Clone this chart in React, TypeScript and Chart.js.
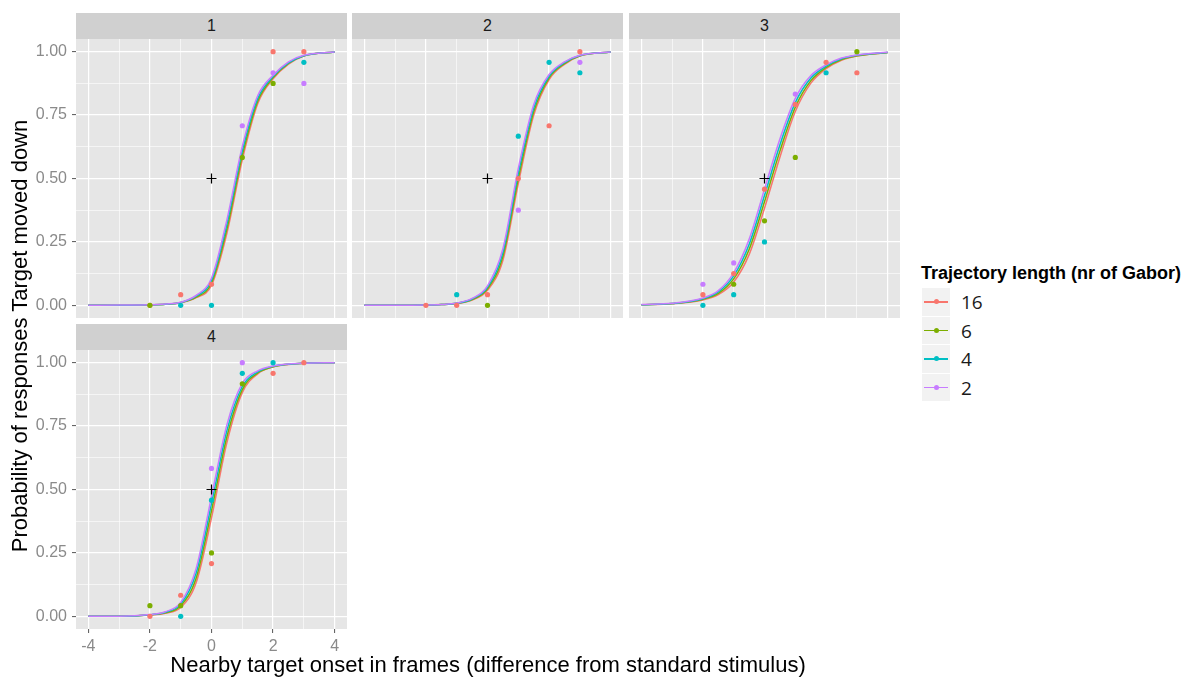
import React, { useEffect, useRef } from "react";
import { Chart, registerables } from "chart.js";

Chart.register(...registerables);

// ---------------- data ----------------
const SERIES = ["16", "6", "4", "2"];
const COLORS = ["#F8766D", "#7CAE00", "#00BFC4", "#C77CFF"];
const PANEL_LABELS = ["1", "2", "3", "4"];

const X_TICKS = [-4, -3, -2, -1, 0, 1, 2, 3, 4];
const Y_TICKS = [0, 0.125, 0.25, 0.375, 0.5, 0.625, 0.75, 0.875, 1];

// fitted curves, sampled at CURVE_X
const CURVE_X = [-4, -3, -2, -1.5, -1, -0.5, 0, 0.5, 1, 1.5, 2, 2.5, 3, 4];

const P1_16 = [0, 0, 0.002, 0.004, 0.01, 0.03, 0.079, 0.284, 0.574, 0.795, 0.893, 0.951, 0.983, 0.999];
const P1_6 = [0, 0, 0.002, 0.004, 0.011, 0.032, 0.088, 0.301, 0.591, 0.805, 0.898, 0.954, 0.984, 0.999];
const P1_4 = [0, 0, 0.002, 0.004, 0.011, 0.036, 0.098, 0.319, 0.609, 0.815, 0.902, 0.956, 0.984, 0.999];
const P1_2 = [0, 0.001, 0.002, 0.005, 0.012, 0.039, 0.107, 0.337, 0.626, 0.826, 0.907, 0.96, 0.986, 0.999];

const P2_16 = [0, 0, 0.001, 0.003, 0.007, 0.021, 0.059, 0.178, 0.48, 0.749, 0.89, 0.95, 0.983, 0.999];
const P2_6 = [0, 0, 0.001, 0.003, 0.008, 0.023, 0.065, 0.193, 0.5, 0.763, 0.897, 0.953, 0.984, 0.999];
const P2_4 = [0, 0, 0.001, 0.003, 0.008, 0.025, 0.071, 0.208, 0.52, 0.777, 0.903, 0.957, 0.985, 0.999];
const P2_2 = [0, 0, 0.001, 0.003, 0.009, 0.027, 0.077, 0.223, 0.54, 0.791, 0.91, 0.96, 0.986, 0.999];

const P3_16 = [0.002, 0.006, 0.021, 0.042, 0.092, 0.2, 0.383, 0.584, 0.764, 0.875, 0.933, 0.966, 0.983, 0.997];
const P3_6 = [0.002, 0.007, 0.024, 0.047, 0.104, 0.22, 0.408, 0.608, 0.781, 0.885, 0.938, 0.969, 0.984, 0.997];
const P3_4 = [0.002, 0.007, 0.026, 0.053, 0.116, 0.24, 0.433, 0.632, 0.799, 0.895, 0.943, 0.972, 0.986, 0.997];
const P3_2 = [0.003, 0.008, 0.029, 0.058, 0.128, 0.26, 0.458, 0.656, 0.816, 0.905, 0.948, 0.975, 0.987, 0.998];

const P4_16 = [0, 0, 0.005, 0.012, 0.035, 0.132, 0.388, 0.685, 0.882, 0.956, 0.983, 0.993, 0.998, 1];
const P4_6 = [0, 0, 0.006, 0.014, 0.042, 0.15, 0.416, 0.708, 0.894, 0.96, 0.984, 0.994, 0.998, 1];
const P4_4 = [0, 0, 0.006, 0.016, 0.048, 0.17, 0.444, 0.732, 0.906, 0.964, 0.986, 0.994, 0.998, 1];
const P4_2 = [0, 0, 0.007, 0.018, 0.055, 0.188, 0.472, 0.755, 0.918, 0.968, 0.987, 0.995, 0.998, 1];

// observed proportions at POINT_X (null = no visible point)
const POINT_X = [-2, -1, 0, 1, 2, 3];

const O1_16 = [0, 0.042, 0.083, null, 1.0, 1.0];
const O1_6 = [0, null, null, 0.583, 0.875, null];
const O1_4 = [null, 0, 0, null, null, 0.958];
const O1_2 = [null, null, null, 0.708, 0.917, 0.875];

const O2_16 = [0, 0, 0.042, 0.5, 0.708, 1.0];
const O2_6 = [null, null, 0, null, null, null];
const O2_4 = [null, 0.042, null, 0.667, 0.958, 0.917];
const O2_2 = [null, null, null, 0.375, null, 0.958];

const O3_16 = [0.042, 0.125, 0.458, 0.792, 0.958, 0.917];
const O3_6 = [null, 0.083, 0.333, 0.583, null, 1.0];
const O3_4 = [0, 0.042, 0.25, null, 0.917, null];
const O3_2 = [0.083, 0.167, null, 0.833, null, null];

const O4_16 = [0, 0.083, 0.208, null, 0.958, 1.0];
const O4_6 = [0.042, 0.042, 0.25, 0.917, null, null];
const O4_4 = [null, 0, 0.458, 0.958, 1.0, null];
const O4_2 = [null, null, 0.583, 1.0, null, null];

// reference marker (PSE of standard)
const REF_X = [0];
const REF_Y = [0.5];

const CURVES = [
  [P1_16, P1_6, P1_4, P1_2],
  [P2_16, P2_6, P2_4, P2_2],
  [P3_16, P3_6, P3_4, P3_2],
  [P4_16, P4_6, P4_4, P4_2],
];
const OBS = [
  [O1_16, O1_6, O1_4, O1_2],
  [O2_16, O2_6, O2_4, O2_2],
  [O3_16, O3_6, O3_4, O3_2],
  [O4_16, O4_6, O4_4, O4_2],
];

// ---------------- layout ----------------
const FONT = "'Liberation Sans', Arial, sans-serif";
const PANEL_W = 271;
const PANEL_H = 279;
const STRIP_H = 26;
const LAYOUT = [
  { left: 76, top: 39, showX: false, showY: true },
  { left: 352, top: 39, showX: false, showY: false },
  { left: 629, top: 39, showX: false, showY: false },
  { left: 76, top: 350, showX: true, showY: true },
];
const X_AXIS_H = 32;

const isMajorX = (v: number) => Math.abs(v / 2 - Math.round(v / 2)) < 1e-9;
const isMajorY = (v: number) => Math.abs(v * 4 - Math.round(v * 4)) < 1e-9;

const bgPlugin = {
  id: "panelBg",
  beforeDraw(chart: any) {
    const { ctx, chartArea: a } = chart;
    ctx.save();
    ctx.fillStyle = "#E6E6E6";
    ctx.fillRect(a.left, a.top, a.right - a.left, a.bottom - a.top);
    ctx.restore();
  },
};

function buildDatasets(p: number) {
  const ds: any[] = [];
  ds.push({
    label: "ref",
    data: REF_X.map((x, i) => ({ x, y: REF_Y[i] })),
    showLine: false,
    pointStyle: "cross",
    pointRadius: 5,
    pointBorderColor: "#000",
    pointBorderWidth: 1.2,
    order: 0,
  });
  for (let s = 0; s < SERIES.length; s++) {
    const pts: any[] = [];
    POINT_X.forEach((x, i) => {
      const y = OBS[p][s][i];
      if (y !== null && y !== undefined) pts.push({ x, y });
    });
    ds.push({
      label: SERIES[s] + " obs",
      data: pts,
      showLine: false,
      pointRadius: 2.6,
      pointBackgroundColor: COLORS[s],
      pointBorderColor: COLORS[s],
      pointBorderWidth: 0,
      order: 4 - s,
    });
  }
  for (let s = 0; s < SERIES.length; s++) {
    ds.push({
      label: SERIES[s],
      data: CURVE_X.map((x, i) => ({ x, y: CURVES[p][s][i] })),
      showLine: true,
      pointRadius: 0,
      borderColor: COLORS[s],
      borderWidth: 1.5,
      cubicInterpolationMode: "monotone",
      fill: false,
      order: 8 - s,
    });
  }
  return ds;
}

function Panel({ p }: { p: number }) {
  const ref = useRef<HTMLCanvasElement>(null);
  const L = LAYOUT[p];
  const axW = L.showY ? L.left : 0;
  const axH = L.showX ? X_AXIS_H : 0;
  const cw = axW + PANEL_W;
  const ch = PANEL_H + axH;

  useEffect(() => {
    if (!ref.current) return;
    const chart = new Chart(ref.current, {
      type: "scatter",
      data: { datasets: buildDatasets(p) },
      options: {
        animation: false,
        responsive: false,
        maintainAspectRatio: false,
        layout: { padding: 0, autoPadding: false } as any,
        events: [],
        plugins: { legend: { display: false }, tooltip: { enabled: false } },
        scales: {
          x: {
            type: "linear",
            min: -4.4,
            max: 4.4,
            afterBuildTicks: (sc: any) => {
              sc.ticks = X_TICKS.map((v) => ({ value: v }));
            },
            afterFit: (sc: any) => {
              sc.height = axH;
              sc.paddingLeft = 0;
              sc.paddingRight = 0;
              sc.paddingTop = 0;
              sc.paddingBottom = 0;
            },
            border: { display: false },
            grid: {
              color: "#FFFFFF",
              lineWidth: (c: any) => (c.tick && isMajorX(c.tick.value) ? 1.2 : 0.6),
              drawTicks: L.showX,
              tickLength: 4,
              tickWidth: 1,
              tickColor: (c: any) => (c.tick && isMajorX(c.tick.value) ? "#555555" : "rgba(0,0,0,0)"),
            },
            ticks: {
              display: L.showX,
              autoSkip: false,
              maxRotation: 0,
              padding: 4,
              color: "#8A8A8A",
              font: { family: FONT, size: 16 },
              callback: (v: any) => (isMajorX(Number(v)) ? String(v) : ""),
            },
          },
          y: {
            type: "linear",
            min: -0.05,
            max: 1.05,
            afterBuildTicks: (sc: any) => {
              sc.ticks = Y_TICKS.map((v) => ({ value: v }));
            },
            afterFit: (sc: any) => {
              sc.width = axW;
              sc.paddingLeft = 0;
              sc.paddingRight = 0;
              sc.paddingTop = 0;
              sc.paddingBottom = 0;
            },
            border: { display: false },
            grid: {
              color: "#FFFFFF",
              lineWidth: (c: any) => (c.tick && isMajorY(c.tick.value) ? 1.2 : 0.6),
              drawTicks: L.showY,
              tickLength: 4,
              tickWidth: 1,
              tickColor: (c: any) => (c.tick && isMajorY(c.tick.value) ? "#555555" : "rgba(0,0,0,0)"),
            },
            ticks: {
              display: L.showY,
              autoSkip: false,
              padding: 5,
              color: "#8A8A8A",
              font: { family: FONT, size: 16 },
              callback: (v: any) => (isMajorY(Number(v)) ? Number(v).toFixed(2) : ""),
            },
          },
        },
      },
      plugins: [bgPlugin],
    });
    return () => chart.destroy();
  }, [p]);

  return (
    <canvas
      ref={ref}
      width={cw}
      height={ch}
      style={{
        position: "absolute",
        left: L.left - axW,
        top: L.top,
        width: cw,
        height: ch,
        display: "block",
      }}
    />
  );
}

export default function App() {
  return (
    <div
      style={{
        position: "absolute",
        left: 0,
        top: 0,
        width: 1194,
        height: 679,
        background: "#FFFFFF",
        overflow: "hidden",
        fontFamily: FONT,
      }}
    >
      {LAYOUT.map((L, p) => (
        <div
          key={"strip" + p}
          style={{
            position: "absolute",
            left: L.left,
            top: L.top - STRIP_H,
            width: PANEL_W,
            height: STRIP_H,
            background: "#D0D0D0",
            color: "#1A1A1A",
            fontSize: 16,
            lineHeight: STRIP_H + "px",
            textAlign: "center",
          }}
        >
          {PANEL_LABELS[p]}
        </div>
      ))}
      {LAYOUT.map((L, p) => (
        <Panel key={"panel" + p} p={p} />
      ))}

      {/* axis titles */}
      <div
        style={{
          position: "absolute",
          left: 0,
          width: 976,
          top: 652,
          height: 26,
          lineHeight: "26px",
          textAlign: "center",
          fontSize: 22,
          color: "#000",
          whiteSpace: "nowrap",
        }}
      >
        Nearby target onset in frames (difference from standard stimulus)
      </div>
      <div
        style={{
          position: "absolute",
          left: 20 - 300,
          top: 336 - 13,
          width: 600,
          height: 26,
          lineHeight: "26px",
          textAlign: "center",
          fontSize: 22,
          color: "#000",
          whiteSpace: "nowrap",
          transform: "rotate(-90deg)",
        }}
      >
        Probability of responses Target moved down
      </div>

      {/* legend */}
      <div
        style={{
          position: "absolute",
          left: 921,
          top: 262,
          height: 22,
          lineHeight: "22px",
          fontSize: 18,
          fontWeight: "bold",
          color: "#000",
          whiteSpace: "nowrap",
        }}
      >
        Trajectory length (nr of Gabor)
      </div>
      {SERIES.map((s, i) => (
        <div key={"leg" + s}>
          <div
            style={{
              position: "absolute",
              left: 922,
              top: 288 + i * 28.5,
              width: 28,
              height: 27.5,
              background: "#F2F2F2",
            }}
          >
            <div
              style={{
                position: "absolute",
                left: 2,
                right: 2,
                top: 13,
                height: 1.5,
                background: COLORS[i],
              }}
            />
            <div
              style={{
                position: "absolute",
                left: 11.5,
                top: 11.2,
                width: 5,
                height: 5,
                borderRadius: "50%",
                background: COLORS[i],
              }}
            />
          </div>
          <div
            style={{
              position: "absolute",
              left: 961,
              top: 288 + i * 28.5,
              height: 28,
              lineHeight: "28px",
              fontSize: 19,
              color: "#1A1A1A",
              fontFamily: "'Open Sans', 'DejaVu Sans', sans-serif",
            }}
          >
            {s}
          </div>
        </div>
      ))}
    </div>
  );
}
